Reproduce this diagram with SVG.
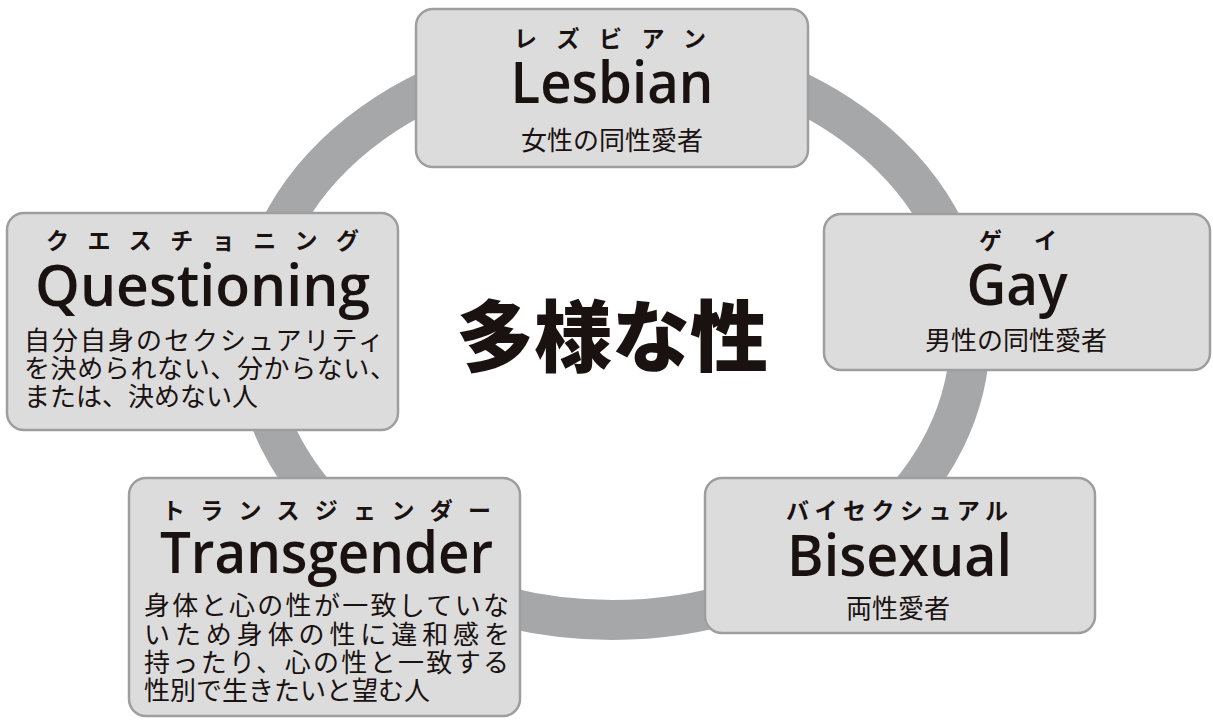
<svg xmlns="http://www.w3.org/2000/svg" width="1213" height="720" viewBox="0 0 1213 720">
<style>
.box{fill:#dcdcdc;stroke:#9e9e9e;stroke-width:2.5}
.kana{font-family:"Noto Sans CJK JP",sans-serif;font-weight:700;font-size:23px;fill:#1a1210}
.en{font-family:"Open Sans","Noto Sans",sans-serif;font-weight:600;font-size:57px;fill:#1a1210;text-anchor:middle}
.desc{font-family:"Noto Sans CJK JP",sans-serif;font-weight:400;font-size:26px;fill:#1a1210}
.mid{text-anchor:middle}
.title{font-family:"Noto Sans CJK JP",sans-serif;font-weight:900;font-size:78px;fill:#1a1210;text-anchor:middle}
</style>
<rect width="1213" height="720" fill="#ffffff"/>
<g id="connectors">
<ellipse cx="612" cy="335" rx="358" ry="285" fill="none" stroke="#a6a7a9" stroke-width="40"/>
</g>
<g id="center">
<text class="title" x="612" y="366">多様な性</text>
</g>
<g id="lesbian">
<rect class="box" x="416" y="9" width="392" height="158" rx="17"/>
<text class="kana" x="514" y="47" textLength="192" lengthAdjust="spacing">レズビアン</text>
<text class="en" x="612" y="103" textLength="203" lengthAdjust="spacingAndGlyphs">Lesbian</text>
<text class="desc mid" x="612" y="150">女性の同性愛者</text>
</g>
<g id="gay">
<rect class="box" x="824" y="214" width="386" height="156" rx="17"/>
<text class="kana" x="979" y="249" textLength="78" lengthAdjust="spacing">ゲイ</text>
<text class="en" x="1017" y="305" textLength="101" lengthAdjust="spacingAndGlyphs">Gay</text>
<text class="desc mid" x="1016" y="350">男性の同性愛者</text>
</g>
<g id="questioning">
<rect class="box" x="7" y="213" width="391" height="217" rx="17"/>
<text class="kana" x="46" y="249" textLength="313" lengthAdjust="spacing">クエスチョニング</text>
<text class="en" x="202.5" y="306" textLength="335" lengthAdjust="spacingAndGlyphs">Questioning</text>
<text class="desc" x="24" y="350" textLength="360" lengthAdjust="spacing">自分自身のセクシュアリティ</text>
<text class="desc" x="24" y="378" textLength="372" lengthAdjust="spacing">を決められない、分からない、</text>
<text class="desc" x="24" y="406">または、決めない人</text>
</g>
<g id="transgender">
<rect class="box" x="129" y="478" width="391" height="238" rx="17"/>
<text class="kana" x="162" y="519" textLength="329" lengthAdjust="spacing">トランスジェンダー</text>
<text class="en" x="326.5" y="573" textLength="333" lengthAdjust="spacingAndGlyphs">Transgender</text>
<text class="desc" x="144" y="615" textLength="365" lengthAdjust="spacing">身体と心の性が一致していな</text>
<text class="desc" x="144" y="644" textLength="366" lengthAdjust="spacing">いため身体の性に違和感を</text>
<text class="desc" x="144" y="672" textLength="365" lengthAdjust="spacing">持ったり、心の性と一致する</text>
<text class="desc" x="144" y="700">性別で生きたいと望む人</text>
</g>
<g id="bisexual">
<rect class="box" x="705" y="478" width="390" height="155" rx="17"/>
<text class="kana" x="786" y="519" textLength="222" lengthAdjust="spacing">バイセクシュアル</text>
<text class="en" x="899.5" y="576" textLength="225" lengthAdjust="spacingAndGlyphs">Bisexual</text>
<text class="desc mid" x="898" y="618">両性愛者</text>
</g>
</svg>
